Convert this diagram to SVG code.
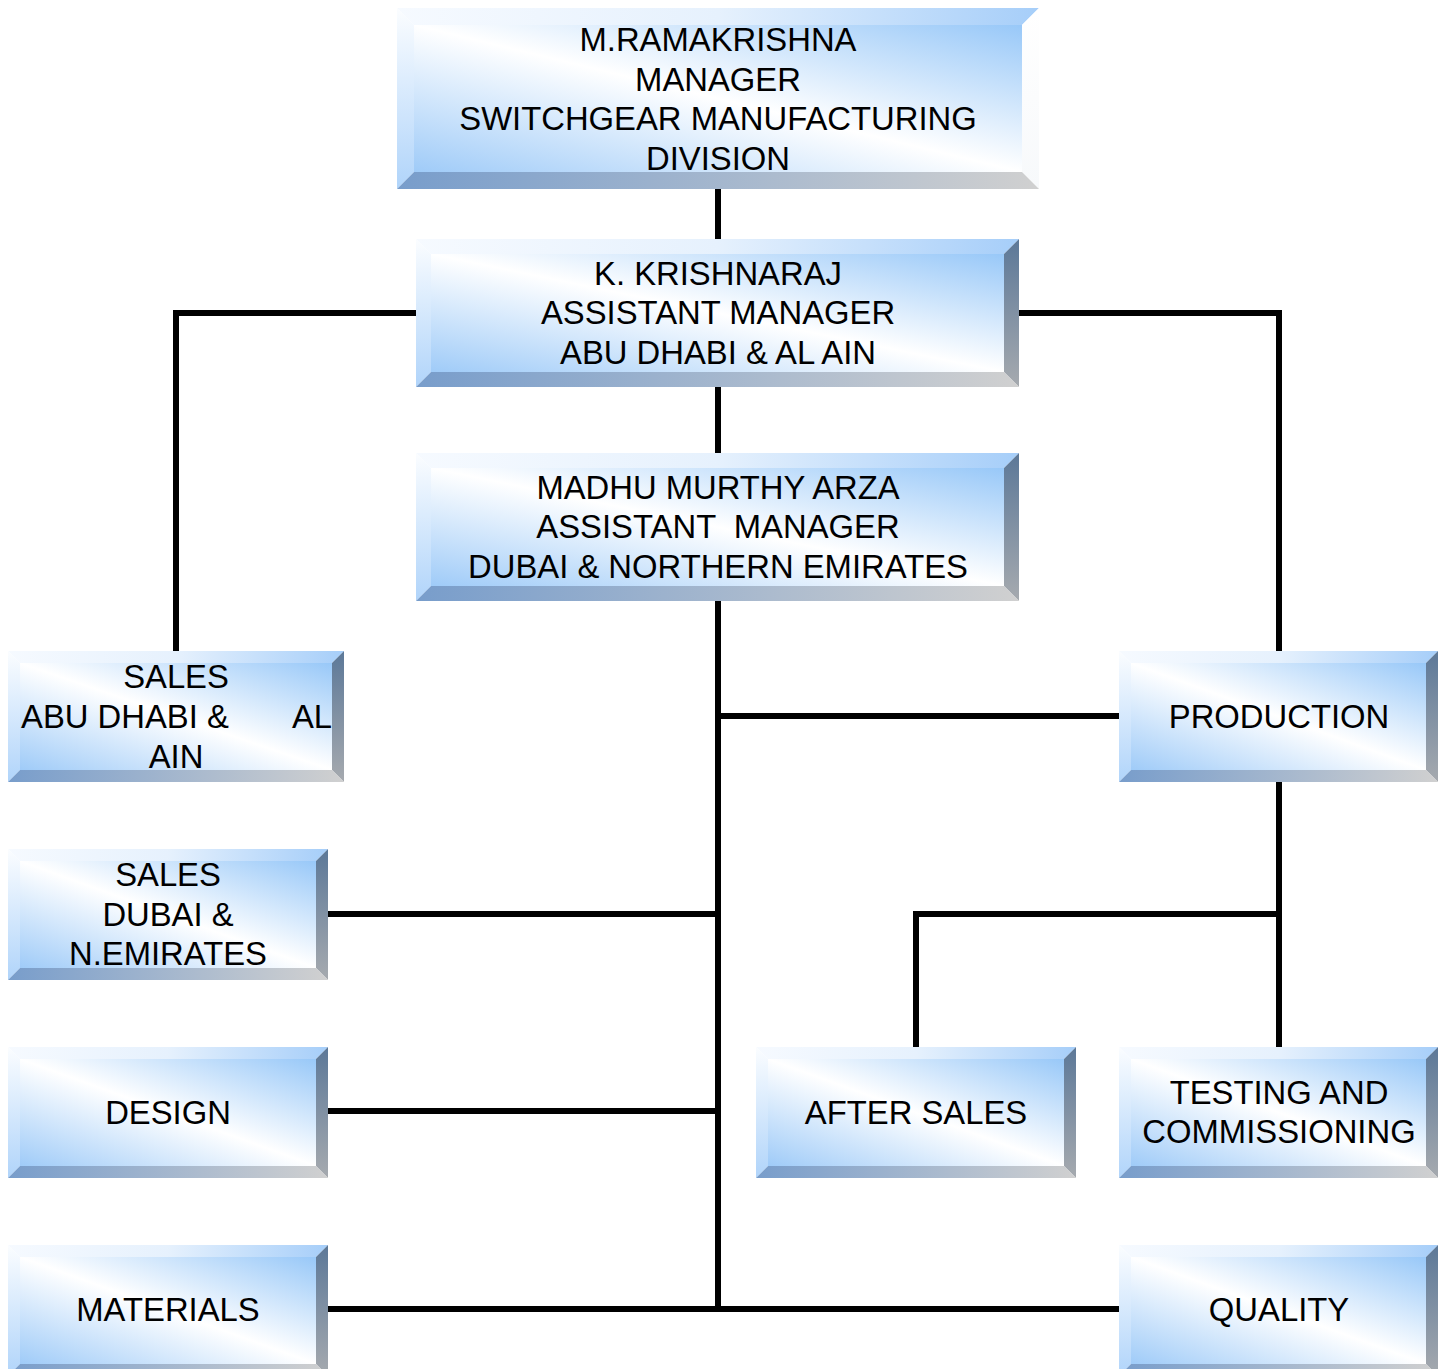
<svg xmlns="http://www.w3.org/2000/svg" width="1449" height="1369" viewBox="0 0 1449 1369">
<defs>
<linearGradient id="gFace" x1="1" y1="0" x2="0" y2="1">
<stop offset="0" stop-color="#98c8f8"/>
<stop offset="0.5" stop-color="#ffffff"/>
<stop offset="1" stop-color="#9fcbf8"/>
</linearGradient>
<linearGradient id="gTop" x1="0" y1="0" x2="1" y2="0">
<stop offset="0" stop-color="#f6faff"/>
<stop offset="0.5" stop-color="#e6f1fd"/>
<stop offset="1" stop-color="#a6cef9"/>
</linearGradient>
<linearGradient id="gLeft" x1="0" y1="0" x2="0" y2="1">
<stop offset="0" stop-color="#fbfdff"/>
<stop offset="1" stop-color="#b0d4fa"/>
</linearGradient>
<linearGradient id="gRight" x1="0" y1="0" x2="0" y2="1">
<stop offset="0" stop-color="#5c7898"/>
<stop offset="1" stop-color="#a6aaaf"/>
</linearGradient>
<linearGradient id="gRightW" x1="0" y1="0" x2="0" y2="1">
<stop offset="0" stop-color="#ffffff"/>
<stop offset="1" stop-color="#f7f9fb"/>
</linearGradient>
<linearGradient id="gBottom" x1="0" y1="0" x2="1" y2="0">
<stop offset="0" stop-color="#789dcb"/>
<stop offset="1" stop-color="#d0d0d0"/>
</linearGradient>
</defs>
<style>
.t{fill:url(#gTop)}.l{fill:url(#gLeft)}.r{fill:url(#gRight)}.rw{fill:url(#gRightW)}.b{fill:url(#gBottom)}.f{fill:url(#gFace)}
text{font-family:"Liberation Sans",Arial,sans-serif;font-size:32.8px;fill:#000;text-anchor:middle;white-space:pre}
.c{fill:none;stroke:#000;stroke-width:6}
</style>
<rect width="1449" height="1369" fill="#fff"/>
<g id="connectors">
<path class="c" d="M718,189V239"/>
<path class="c" d="M718,387V453"/>
<path class="c" d="M416,313H176V651"/>
<path class="c" d="M1019,313H1279V651"/>
<path class="c" d="M718,601V1312"/>
<path class="c" d="M718,716H1119"/>
<path class="c" d="M328,914H718"/>
<path class="c" d="M328,1111H718"/>
<path class="c" d="M328,1309H1119"/>
<path class="c" d="M1279,782V1047"/>
<path class="c" d="M916,1047V914H1279"/>
</g>
<g id="n-manager">
<polygon class="t" points="397,8 1039,8 1022,25 414,25"/>
<polygon class="l" points="397,8 414,25 414,172 397,189"/>
<polygon class="rw" points="1039,8 1039,189 1022,172 1022,25"/>
<polygon class="b" points="397,189 414,172 1022,172 1039,189"/>
<rect class="f" x="414" y="25" width="608" height="147"/>
<text x="718" y="51">M.RAMAKRISHNA</text>
<text x="718" y="91">MANAGER</text>
<text x="718" y="130">SWITCHGEAR MANUFACTURING</text>
<text x="718" y="170">DIVISION</text>
</g>
<g id="n-krishnaraj">
<polygon class="t" points="416,239 1019,239 1004,254 431,254"/>
<polygon class="l" points="416,239 431,254 431,372 416,387"/>
<polygon class="r" points="1019,239 1019,387 1004,372 1004,254"/>
<polygon class="b" points="416,387 431,372 1004,372 1019,387"/>
<rect class="f" x="431" y="254" width="573" height="118"/>
<text x="718" y="285">K. KRISHNARAJ</text>
<text x="718" y="324">ASSISTANT MANAGER</text>
<text x="718" y="364">ABU DHABI &amp; AL AIN</text>
</g>
<g id="n-madhu">
<polygon class="t" points="416,453 1019,453 1004,468 431,468"/>
<polygon class="l" points="416,453 431,468 431,586 416,601"/>
<polygon class="r" points="1019,453 1019,601 1004,586 1004,468"/>
<polygon class="b" points="416,601 431,586 1004,586 1019,601"/>
<rect class="f" x="431" y="468" width="573" height="118"/>
<text x="718" y="499">MADHU MURTHY ARZA</text>
<text x="718" y="538">ASSISTANT  MANAGER</text>
<text x="718" y="578">DUBAI &amp; NORTHERN EMIRATES</text>
</g>
<g id="n-sales-ad">
<polygon class="t" points="8,651 344,651 332,663 20,663"/>
<polygon class="l" points="8,651 20,663 20,770 8,782"/>
<polygon class="r" points="344,651 344,782 332,770 332,663"/>
<polygon class="b" points="8,782 20,770 332,770 344,782"/>
<rect class="f" x="20" y="663" width="312" height="107"/>
<text x="176" y="688">SALES</text>
<text x="21" y="728" style="text-anchor:start">ABU DHABI &amp;</text>
<text x="332" y="728" style="text-anchor:end">AL</text>
<text x="176" y="768">AIN</text>
</g>
<g id="n-sales-dubai">
<polygon class="t" points="8,849 328,849 316,861 20,861"/>
<polygon class="l" points="8,849 20,861 20,968 8,980"/>
<polygon class="r" points="328,849 328,980 316,968 316,861"/>
<polygon class="b" points="8,980 20,968 316,968 328,980"/>
<rect class="f" x="20" y="861" width="296" height="107"/>
<text x="168" y="886">SALES</text>
<text x="168" y="926">DUBAI &amp;</text>
<text x="168" y="965">N.EMIRATES</text>
</g>
<g id="n-design">
<polygon class="t" points="8,1047 328,1047 316,1059 20,1059"/>
<polygon class="l" points="8,1047 20,1059 20,1166 8,1178"/>
<polygon class="r" points="328,1047 328,1178 316,1166 316,1059"/>
<polygon class="b" points="8,1178 20,1166 316,1166 328,1178"/>
<rect class="f" x="20" y="1059" width="296" height="107"/>
<text x="168" y="1124">DESIGN</text>
</g>
<g id="n-materials">
<polygon class="t" points="8,1245 328,1245 316,1257 20,1257"/>
<polygon class="l" points="8,1245 20,1257 20,1364 8,1376"/>
<polygon class="r" points="328,1245 328,1376 316,1364 316,1257"/>
<polygon class="b" points="8,1376 20,1364 316,1364 328,1376"/>
<rect class="f" x="20" y="1257" width="296" height="107"/>
<text x="168" y="1321">MATERIALS</text>
</g>
<g id="n-production">
<polygon class="t" points="1119,651 1438,651 1426,663 1131,663"/>
<polygon class="l" points="1119,651 1131,663 1131,770 1119,782"/>
<polygon class="r" points="1438,651 1438,782 1426,770 1426,663"/>
<polygon class="b" points="1119,782 1131,770 1426,770 1438,782"/>
<rect class="f" x="1131" y="663" width="295" height="107"/>
<text x="1279" y="728">PRODUCTION</text>
</g>
<g id="n-after-sales">
<polygon class="t" points="756,1047 1076,1047 1064,1059 768,1059"/>
<polygon class="l" points="756,1047 768,1059 768,1166 756,1178"/>
<polygon class="r" points="1076,1047 1076,1178 1064,1166 1064,1059"/>
<polygon class="b" points="756,1178 768,1166 1064,1166 1076,1178"/>
<rect class="f" x="768" y="1059" width="296" height="107"/>
<text x="916" y="1124">AFTER SALES</text>
</g>
<g id="n-testing">
<polygon class="t" points="1119,1047 1438,1047 1426,1059 1131,1059"/>
<polygon class="l" points="1119,1047 1131,1059 1131,1166 1119,1178"/>
<polygon class="r" points="1438,1047 1438,1178 1426,1166 1426,1059"/>
<polygon class="b" points="1119,1178 1131,1166 1426,1166 1438,1178"/>
<rect class="f" x="1131" y="1059" width="295" height="107"/>
<text x="1279" y="1104">TESTING AND</text>
<text x="1279" y="1143">COMMISSIONING</text>
</g>
<g id="n-quality">
<polygon class="t" points="1119,1245 1438,1245 1426,1257 1131,1257"/>
<polygon class="l" points="1119,1245 1131,1257 1131,1364 1119,1376"/>
<polygon class="r" points="1438,1245 1438,1376 1426,1364 1426,1257"/>
<polygon class="b" points="1119,1376 1131,1364 1426,1364 1438,1376"/>
<rect class="f" x="1131" y="1257" width="295" height="107"/>
<text x="1279" y="1321">QUALITY</text>
</g>
</svg>
